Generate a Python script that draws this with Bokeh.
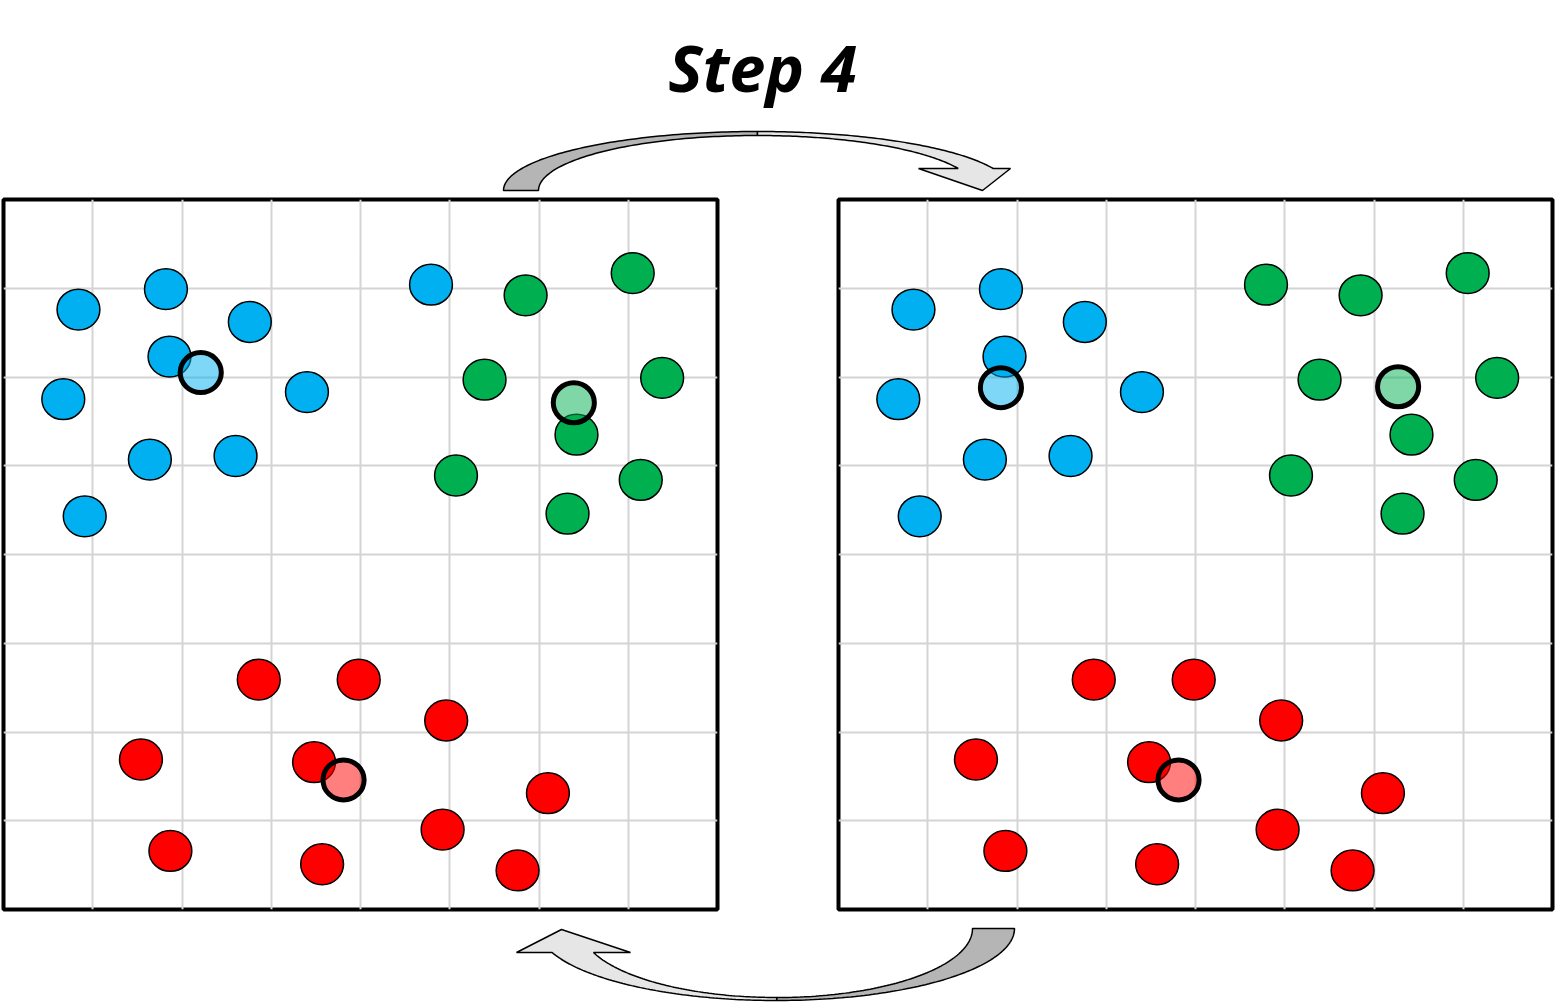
import numpy as np
from bokeh.plotting import figure
from bokeh.layouts import column, row
from bokeh.models import Spacer, FixedTicker, Range1d, Grid
from bokeh.core.properties import value
from bokeh.embed import file_html
from bokeh.resources import INLINE

# ---------------- data (grid units, 0..8) ----------------
blue_x = [0.84, 1.82, 2.76, 1.86, 0.67, 3.40, 1.64, 2.60, 0.91]
blue_y = [6.76, 6.99, 6.62, 6.23, 5.75, 5.83, 5.07, 5.11, 4.43]
green_x = [5.85, 7.05, 5.39, 7.38, 6.42, 5.07, 7.14, 6.32]
green_y = [6.92, 7.17, 5.97, 5.99, 5.35, 4.89, 4.84, 4.46]
red_x = [2.86, 3.98, 1.54, 3.48, 1.87, 3.57, 4.96, 6.10, 4.92, 5.76]
red_y = [2.59, 2.59, 1.69, 1.66, 0.66, 0.51, 2.13, 1.31, 0.90, 0.44]
# point that changes cluster (blue -> green)
moved_x = [4.79]
moved_y = [7.04]

cent_colors = ["blue", "green", "red"]
cent_left_x = [2.21, 6.39, 3.81]
cent_left_y = [6.05, 5.71, 1.46]
cent_right_x = [1.82, 6.27, 3.81]
cent_right_y = [5.88, 5.89, 1.46]

grid_ticks = [1, 2, 3, 4, 5, 6, 7]
title_text = "Step 4"

COL = {"blue": "#00B0F0", "green": "#00B050", "red": "#FF0000"}
PW, PH = 0.48, 0.46


def panel(moved_color, cx, cy):
    p = figure(width=720, height=716, x_range=Range1d(0, 8), y_range=Range1d(0, 8),
               x_axis_location=None, y_axis_location=None,
               output_backend="svg", toolbar_location=None,
               min_border_left=3, min_border_right=3, min_border_top=3, min_border_bottom=3)
    p.grid.visible = False
    for dim in (0, 1):
        g = Grid(dimension=dim, ticker=FixedTicker(ticks=grid_ticks),
                 grid_line_color="#d4d4d4", grid_line_width=2)
        p.add_layout(g)
    p.outline_line_color = "black"
    p.outline_line_width = 4
    p.background_fill_color = "white"
    p.border_fill_color = "white"
    p.ellipse(blue_x, blue_y, width=PW, height=PH, fill_color=COL["blue"],
              line_color="black", line_width=1.5)
    p.ellipse(green_x, green_y, width=PW, height=PH, fill_color=COL["green"],
              line_color="black", line_width=1.5)
    p.ellipse(red_x, red_y, width=PW, height=PH, fill_color=COL["red"],
              line_color="black", line_width=1.5)
    p.ellipse(moved_x, moved_y, width=PW, height=PH, fill_color=COL[moved_color],
              line_color="black", line_width=1.5)
    p.ellipse(cx, cy, width=PW * 0.96, height=PH * 0.98,
              fill_color=[COL[c] for c in cent_colors],
              fill_alpha=0.5, line_color="black", line_width=5)
    return p


left = panel("blue", cent_left_x, cent_left_y)
right = panel("green", cent_right_x, cent_right_y)


def deco(h, y0, y1):
    p = figure(width=1557, height=h, x_range=Range1d(0, 1557), y_range=Range1d(y1, y0),
               x_axis_location=None, y_axis_location=None,
               output_backend="svg", toolbar_location=None, min_border=0)
    p.grid.visible = False
    p.outline_line_color = None
    return p


def arc(cx, cy, rx, ry, t0, t1, n=80):
    t = np.linspace(np.radians(t0), np.radians(t1), n)
    return cx + rx * np.cos(t), cy + ry * np.sin(t)

DARK, LIGHT = "#b5b5b5", "#e6e6e6"

# ---- top decoration: title + arrow ----
top = deco(196, 0, 196)
top.text([762], [66], text=[title_text], text_align="center", text_baseline="middle",
         text_font=value("Open Sans"), text_font_style="bold italic",
         text_font_size="65px", text_color="black")

ocx, ocy, orx, ory = 757, 190, 254, 59
icx, icy, irx, iry = 757, 190, 219, 55
# dark part: left tail up to top
ox, oy = arc(ocx, ocy, orx, -ory, 180, 90)
ix, iy = arc(icx, icy, irx, -iry, 90, 180)
top.patch(np.r_[ox, ix], np.r_[oy, iy], fill_color=DARK, line_color="black", line_width=1.5)
# light part: top to arrow head
t_o = np.degrees(np.arcsin(22 / ory))
t_i = np.degrees(np.arcsin(22 / iry))
ox, oy = arc(ocx, ocy, orx, -ory, 90, t_o)
ix, iy = arc(icx, icy, irx, -iry, t_i, 90)
hx = [1010, 982, 918]
hy = [168, 190, 168]
top.patch(np.r_[ox, hx, ix], np.r_[oy, hy, iy], fill_color=LIGHT,
          line_color="black", line_width=1.5)

# ---- bottom decoration: arrow ----
bot = deco(90, 912, 1002)
bcx, bcy, brx, bry = 776, 928, 238, 72
bicx, bicy, birx, biry = 776.4, 928, 195.6, 69
ox, oy = arc(bcx, bcy, brx, bry, 0, 90)
ix, iy = arc(bicx, bicy, birx, biry, 90, 0)
bot.patch(np.r_[ox, ix], np.r_[oy, iy], fill_color=DARK, line_color="black", line_width=1.5)
b_o = 180 - np.degrees(np.arcsin(24 / bry))
b_i = 180 - np.degrees(np.arcsin(24 / biry))
ox, oy = arc(bcx, bcy, brx, bry, 90, b_o)
ix, iy = arc(bicx, bicy, birx, biry, b_i, 90)
hx = [516, 561, 630]
hy = [952, 929, 952]
bot.patch(np.r_[ox, hx, ix], np.r_[oy, hy, iy], fill_color=LIGHT,
          line_color="black", line_width=1.5)

layout = column(top, row(left, Spacer(width=115, height=716), right), bot)
open("out.html", "w").write(file_html(layout, INLINE))
